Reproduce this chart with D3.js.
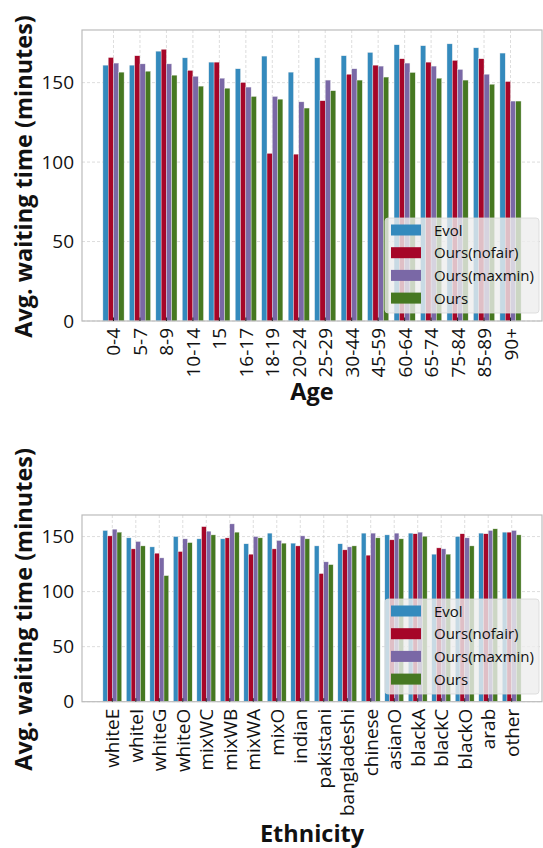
<!DOCTYPE html>
<html>
<head>
<meta charset="utf-8">
<script src="https://cdn.jsdelivr.net/npm/d3@7"></script>
<style>
  body { margin: 0; background: #fff; }
  svg { display: block; font-family: "Open Sans", "DejaVu Sans", sans-serif; }
</style>
</head>
<body>
<svg id="chart"></svg>
<script>
// series names + colours (bmh palette)
const seriesNames = ["Evol", "Ours(nofair)", "Ours(maxmin)", "Ours"];
const seriesColors = ["#348ABD", "#A60628", "#7A68A6", "#467821"];

// age panel
const ageGroups = ["0-4", "5-7", "8-9", "10-14", "15", "16-17", "18-19", "20-24", "25-29",
                   "30-44", "45-59", "60-64", "65-74", "75-84", "85-89", "90+"];
const ageEvol   = [161, 161, 169.8, 165.6, 162.9, 158.7, 166.7, 156.6, 165.6, 166.9, 169, 173.8, 173.2, 174.4, 171.9, 168.6];
const ageNofair = [165.8, 166.9, 171, 157.7, 162.9, 150.1, 105.5, 105, 138.6, 155.3, 161, 165, 162.9, 164, 165, 150.7];
const ageMaxmin = [162.3, 161.8, 161.8, 154, 152.8, 147.2, 141.3, 137.9, 151.6, 158.7, 160.4, 162.3, 160.4, 158.3, 155.3, 138.4];
const ageOurs   = [156.6, 157.2, 154.7, 147.8, 146.5, 141.3, 139.6, 134, 144.9, 151.6, 153.5, 156.4, 152.8, 151.6, 149, 138.4];

// ethnicity panel
const ethGroups = ["whiteE", "whiteI", "whiteG", "whiteO", "mixWC", "mixWB", "mixWA", "mixO", "indian",
                   "pakistani", "bangladeshi", "chinese", "asianO", "blackA", "blackC", "blackO", "arab", "other"];
const ethEvol   = [155.5, 148.8, 140.6, 150, 147.9, 147.9, 143.4, 153.1, 144, 141.5, 143.4, 153.1, 151.5, 153.1, 134, 150, 153.1, 154];
const ethNofair = [150.6, 138.8, 134.9, 136.4, 159, 148.8, 134, 138.8, 141.5, 116.4, 137.9, 133.1, 147, 152.5, 139.7, 152.5, 152.5, 154];
const ethMaxmin = [156.7, 145.5, 130.6, 147.9, 154.9, 161.5, 150, 146.4, 150.6, 127, 140.6, 153.1, 153.1, 154, 138.8, 148.8, 155.5, 155.5];
const ethOurs   = [154, 141.5, 114.5, 144.5, 151.5, 154, 148.8, 144, 147.9, 124.5, 141.5, 148.8, 147.9, 150.3, 134, 141.5, 157, 151.5];

const yTicks = [0, 50, 100, 150];

const W = 543, H = 848;
const svg = d3.select("#chart").attr("width", W).attr("height", H);

function drawPanel(cfg) {
  const { cats, series, top, bottom, xTitle, xTitleY, legendY } = cfg;
  const left = 82, right = 542;
  const n = cats.length;
  const lo = -0.4, hi = n - 1 + 0.4, pad = (hi - lo) * 0.05;
  const x = d3.scaleLinear().domain([lo - pad, hi + pad]).range([left, right]);
  const ymax = d3.max(series.flat()) * 1.05;
  const y = d3.scaleLinear().domain([0, ymax]).range([bottom, top]);
  const g = svg.append("g");

  // grid
  g.selectAll(".gy").data(yTicks).enter().append("line")
    .attr("x1", left).attr("x2", right)
    .attr("y1", d => y(d)).attr("y2", d => y(d))
    .attr("stroke", "#cfcfcf").attr("stroke-width", 0.7).attr("stroke-dasharray", "3,2");
  g.selectAll(".gx").data(cats).enter().append("line")
    .attr("x1", (d, i) => x(i)).attr("x2", (d, i) => x(i))
    .attr("y1", top).attr("y2", bottom)
    .attr("stroke", "#cfcfcf").attr("stroke-width", 0.7).attr("stroke-dasharray", "3,2");

  // bars
  const bw = 0.2;
  series.forEach((vals, s) => {
    g.selectAll(".b" + s).data(vals).enter().append("rect")
      .attr("x", (d, i) => x(i - 0.4 + s * bw))
      .attr("width", x(bw) - x(0))
      .attr("y", d => y(d))
      .attr("height", d => y(0) - y(d))
      .attr("fill", seriesColors[s])
      .attr("stroke", "#eeeeee").attr("stroke-width", 0.4);
  });

  // frame
  g.append("rect").attr("x", left).attr("y", top)
    .attr("width", right - left).attr("height", bottom - top)
    .attr("fill", "none").attr("stroke", "#bcbcbc").attr("stroke-width", 1.2);

  // x ticks (inward) + labels
  g.selectAll(".tx").data(cats).enter().append("line")
    .attr("x1", (d, i) => x(i)).attr("x2", (d, i) => x(i))
    .attr("y1", bottom).attr("y2", bottom - 3.5)
    .attr("stroke", "#222").attr("stroke-width", 1);
  g.selectAll(".lx").data(cats).enter().append("text")
    .attr("transform", (d, i) => `translate(${x(i) + 7},${bottom + 7}) rotate(-90)`)
    .attr("text-anchor", "end")
    .attr("font-size", 19).attr("fill", "#111")
    .text(d => d);

  // y labels
  g.selectAll(".ly").data(yTicks).enter().append("text")
    .attr("x", left - 8).attr("y", d => y(d) + 6.5)
    .attr("text-anchor", "end")
    .attr("font-size", 19).attr("fill", "#111")
    .text(d => d);

  // titles
  g.append("text")
    .attr("transform", `translate(32,${(top + bottom) / 2 + 1}) rotate(-90)`)
    .attr("text-anchor", "middle")
    .attr("font-size", 23.5).attr("font-weight", "bold").attr("fill", "#111")
    .text("Avg. waiting time (minutes)");
  g.append("text")
    .attr("x", (left + right) / 2).attr("y", xTitleY)
    .attr("text-anchor", "middle")
    .attr("font-size", 23.5).attr("font-weight", "bold").attr("fill", "#111")
    .text(xTitle);

  // legend
  const lg = g.append("g").attr("transform", `translate(385,${legendY})`);
  lg.append("rect").attr("width", 154).attr("height", 95).attr("rx", 3)
    .attr("fill", "#eeeeee").attr("fill-opacity", 0.8)
    .attr("stroke", "#d8d8d8").attr("stroke-width", 0.8);
  seriesNames.forEach((name, s) => {
    const cy = 12 + s * 22.7;
    lg.append("rect").attr("x", 6).attr("y", cy - 5.5).attr("width", 30).attr("height", 11)
      .attr("fill", seriesColors[s]);
    lg.append("text").attr("x", 49).attr("y", cy + 5.5)
      .attr("font-size", 15).attr("fill", "#111").text(name);
  });
}

drawPanel({
  cats: ageGroups,
  series: [ageEvol, ageNofair, ageMaxmin, ageOurs],
  top: 30, bottom: 321,
  xTitle: "Age", xTitleY: 400, legendY: 218
});

drawPanel({
  cats: ethGroups,
  series: [ethEvol, ethNofair, ethMaxmin, ethOurs],
  top: 515, bottom: 701.7,
  xTitle: "Ethnicity", xTitleY: 842, legendY: 599
});
</script>
</body>
</html>
